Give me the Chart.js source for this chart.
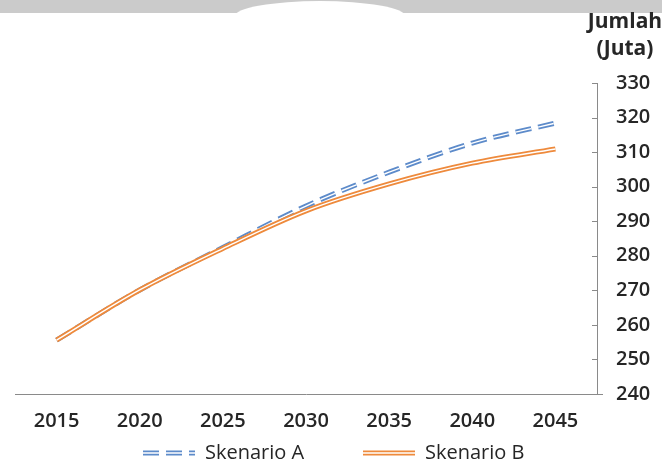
<!DOCTYPE html>
<html>
<head>
<meta charset="utf-8">
<script src="https://cdn.jsdelivr.net/npm/chart.js@4.4.1/dist/chart.umd.min.js"></script>
<style>
  html, body { margin: 0; padding: 0; background: #ffffff; }
  #wrap { position: relative; width: 662px; height: 463px; }
</style>
</head>
<body>
<div id="wrap"><canvas id="c" width="662" height="463"></canvas></div>
<script>
// ---- data ----
const years = ['2015', '2020', '2025', '2030', '2035', '2040', '2045'];
const skenarioA = [255.6, 270.1, 282.4, 294.4, 304.2, 312.6, 318.4];
const skenarioB = [255.6, 270.1, 282.1, 293.0, 300.8, 306.8, 310.9];
const yTicks = [240, 250, 260, 270, 280, 290, 300, 310, 320, 330];
const seriesNames = ['Skenario A', 'Skenario B'];
const axisTitle = ['Jumlah', '(Juta)'];

const FONT = "'Open Sans', 'Liberation Sans', sans-serif";
const TEXT = '#262626';
const BLUE = '#5d8bca';
const ORANGE = '#ee8a3c';
const DASH = [16, 7];

const bgPlugin = {
  id: 'bg',
  beforeDraw(chart) {
    const ctx = chart.ctx;
    ctx.save();
    ctx.fillStyle = '#ffffff';
    ctx.fillRect(0, 0, chart.width, chart.height);
    ctx.fillStyle = '#cbcbcb';
    ctx.fillRect(0, 0, chart.width, 13);
    ctx.fillStyle = '#ffffff';
    ctx.beginPath();
    ctx.ellipse(320, 16, 85, 15, 0, 0, Math.PI * 2);
    ctx.fill();
    ctx.restore();
  }
};

const decoPlugin = {
  id: 'deco',
  afterDraw(chart) {
    const ctx = chart.ctx;
    const y = chart.scales.y;
    const area = chart.chartArea;
    ctx.save();
    // small tick marks on the inner side of the right axis
    ctx.strokeStyle = '#8a8a8a';
    ctx.lineWidth = 1;
    y.ticks.forEach(t => {
      const py = Math.round(y.getPixelForValue(t.value)) + 0.5;
      ctx.beginPath();
      ctx.moveTo(area.right - 5, py);
      ctx.lineTo(area.right, py);
      ctx.stroke();
    });
    // baseline extension past the axis
    const by = Math.round(y.getPixelForValue(yTicks[0])) + 0.5;
    ctx.beginPath();
    ctx.moveTo(area.right, by);
    ctx.lineTo(area.right + 6, by);
    ctx.stroke();

    // axis title
    ctx.fillStyle = TEXT;
    ctx.font = "bold 21px " + FONT;
    ctx.textAlign = 'center';
    ctx.textBaseline = 'middle';
    ctx.fillText(axisTitle[0], 625, 22);
    ctx.fillText(axisTitle[1], 625, 49);

    // legend
    const items = [
      { ds: chart.data.datasets[2], x: 143 },
      { ds: chart.data.datasets[0], x: 363 }
    ];
    const ly = 453;
    items.forEach(it => {
      const w = 52;
      ctx.lineCap = 'butt';
      ctx.setLineDash(it.ds.borderDash || []);
      ctx.strokeStyle = it.ds.borderColor;
      ctx.lineWidth = 5;
      ctx.beginPath();
      ctx.moveTo(it.x, ly);
      ctx.lineTo(it.x + w, ly);
      ctx.stroke();
      ctx.strokeStyle = '#ffffff';
      ctx.lineWidth = 1.4;
      ctx.beginPath();
      ctx.moveTo(it.x, ly);
      ctx.lineTo(it.x + w, ly);
      ctx.stroke();
      ctx.setLineDash([]);
      ctx.fillStyle = TEXT;
      ctx.font = "500 20px " + FONT;
      ctx.textAlign = 'left';
      ctx.textBaseline = 'middle';
      ctx.fillText(it.ds.label, it.x + w + 10, ly);
    });
    ctx.restore();
  }
};

function lineSet(label, data, color, width, dash, order) {
  return {
    label: label,
    data: data,
    borderColor: color,
    backgroundColor: color,
    borderWidth: width,
    borderDash: dash,
    borderCapStyle: 'butt',
    fill: false,
    pointRadius: 0,
    pointHoverRadius: 0,
    cubicInterpolationMode: 'monotone',
    order: order
  };
}

new Chart(document.getElementById('c'), {
  type: 'line',
  data: {
    labels: years,
    datasets: [
      lineSet(seriesNames[1], skenarioB, ORANGE, 5, [], 1),
      lineSet('', skenarioB, '#ffffff', 1.4, [], 0),
      lineSet(seriesNames[0], skenarioA, BLUE, 5, DASH, 3),
      lineSet('', skenarioA, '#ffffff', 1.4, DASH, 2)
    ]
  },
  options: {
    responsive: false,
    animation: false,
    layout: { padding: { top: 83, left: 15, right: 0, bottom: 0 } },
    plugins: {
      legend: { display: false },
      tooltip: { enabled: false },
      title: { display: false }
    },
    scales: {
      x: {
        type: 'category',
        offset: true,
        grid: { display: false, drawTicks: false },
        border: { display: true, color: '#8a8a8a', width: 1 },
        ticks: {
          color: TEXT,
          font: { family: FONT, size: 20, weight: '600' },
          padding: 15,
          maxRotation: 0,
          autoSkip: false
        },
        afterFit(scale) { scale.height = 69; }
      },
      y: {
        position: 'right',
        min: yTicks[0],
        max: yTicks[yTicks.length - 1],
        grid: { display: false, drawTicks: false },
        border: { display: true, color: '#8a8a8a', width: 1 },
        afterBuildTicks(scale) { scale.ticks = yTicks.map(v => ({ value: v })); },
        ticks: {
          color: TEXT,
          font: { family: FONT, size: 20, weight: '600' },
          padding: 19
        },
        afterFit(scale) { scale.width = 65; }
      }
    }
  },
  plugins: [bgPlugin, decoPlugin]
});
</script>
</body>
</html>
